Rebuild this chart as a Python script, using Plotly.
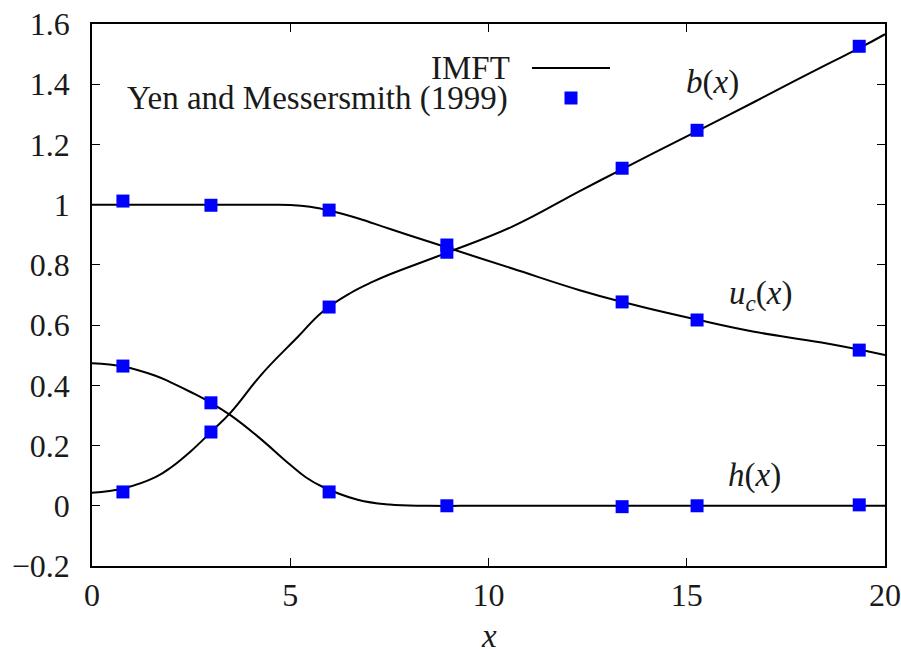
import plotly.graph_objects as go

# ---- data ----
x_b = [0, 0.8, 1.6, 2.0, 2.5, 3.0, 3.5, 4.3, 5.2, 5.8, 6.5, 7.1, 7.5, 8.9, 10.6, 12.3, 13.4, 15.3, 16.7, 18.4, 19.4, 20]
b_line = [0.043, 0.058, 0.095, 0.128, 0.182, 0.245, 0.31, 0.44, 0.562, 0.643, 0.705, 0.745, 0.768, 0.838, 0.927, 1.045, 1.12, 1.247, 1.341, 1.457, 1.523, 1.566]

x_u = [0, 2.5, 4.5, 5.0, 5.5, 6.0, 6.7, 7.5, 8.9, 10.6, 12.3, 13.4, 15.3, 16.7, 18.4, 20]
u_line = [1.0, 1.0, 1.0, 0.999, 0.993, 0.98, 0.955, 0.92, 0.86, 0.788, 0.716, 0.676, 0.617, 0.578, 0.542, 0.501]

x_h = [0, 0.8, 1.6, 2.0, 2.5, 3.0, 3.5, 4.2, 5.0, 5.4, 5.8, 6.7, 7.5, 8.5, 10, 15, 20]
h_line = [0.473, 0.462, 0.432, 0.409, 0.377, 0.342, 0.3, 0.228, 0.136, 0.094, 0.064, 0.02, 0.004, 0.0, 0.0, 0.0, 0.0]

x_exp = [0.78, 3.0, 5.98, 8.95, 13.37, 15.26, 19.35]
b_exp = [0.046, 0.245, 0.66, 0.842, 1.121, 1.247, 1.526]
u_exp = [1.012, 0.998, 0.982, 0.866, 0.677, 0.617, 0.517]
h_exp = [0.464, 0.342, 0.046, 0.0, -0.003, 0.0, 0.003]

x_ticks = [0, 5, 10, 15, 20]
x_ticktext = ["0", "5", "10", "15", "20"]
y_ticks = [-0.2, 0, 0.2, 0.4, 0.6, 0.8, 1.0, 1.2, 1.4, 1.6]
y_ticktext = ["\u22120.2", "0", "0.2", "0.4", "0.6", "0.8", "1", "1.2", "1.4", "1.6"]

FONT = "Liberation Serif, serif"
FS = 32
FS_TXT = 33
TXT = "#1a1a1a"
BLUE = "#0000ff"

W, H = 901, 649
ML, MR, MT, MB = 92, 16, 24, 83
PW = W - ML - MR          # plot width in px
PH = H - MT - MB          # plot height in px

fig = go.Figure()
line_style = dict(color="black", width=2, shape="spline", smoothing=1.2)
for xs, ys in [(x_b, b_line), (x_u, u_line), (x_h, h_line)]:
    fig.add_trace(go.Scatter(x=xs, y=ys, mode="lines", line=line_style,
                             showlegend=False, hoverinfo="skip"))
for ys in [b_exp, u_exp, h_exp]:
    fig.add_trace(go.Scatter(x=x_exp, y=ys, mode="markers",
                             marker=dict(symbol="square", size=13, color=BLUE, line=dict(width=0)),
                             showlegend=False))

axis_common = dict(showline=True, linecolor="black", linewidth=1.5, mirror="ticks",
                   ticks="inside", ticklen=8, tickwidth=1.2, tickcolor="black",
                   showgrid=False, zeroline=False, automargin=False,
                   ticklabeloverflow="allow",
                   tickfont=dict(family=FONT, size=FS, color=TXT))

fig.update_xaxes(range=[0, 20], tickvals=x_ticks, ticktext=x_ticktext,
                 ticklabelstandoff=0, **axis_common)
fig.update_yaxes(range=[-0.2, 1.6], tickvals=y_ticks, ticktext=y_ticktext,
                 ticklabelstandoff=14, **axis_common)

# curve labels
labels = [("<i>b</i>(<i>x</i>)", 15.66, 1.406),
          ("<i>u<sub>c</sub></i>(<i>x</i>)", 16.85, 0.70),
          ("<i>h</i>(<i>x</i>)", 16.72, 0.10)]
for txt, lx, ly in labels:
    fig.add_annotation(x=lx, y=ly, text=txt, showarrow=False,
                       font=dict(family=FONT, size=FS_TXT, color=TXT))

def px_x(p):
    return (p - ML) / PW

def px_y(p):
    return (MT + PH - p) / PH

# x-axis title
fig.add_annotation(xref="paper", yref="paper", x=0.5, y=px_y(636), text="<i>x</i>",
                   xanchor="center", yanchor="middle", showarrow=False,
                   font=dict(family=FONT, size=FS_TXT, color=TXT))

# legend (drawn manually: text on the left, sample on the right)
fig.add_annotation(xref="paper", yref="paper", x=px_x(512), y=px_y(68), text="IMFT",
                   xanchor="right", yanchor="middle", showarrow=False,
                   font=dict(family=FONT, size=FS_TXT, color=TXT))
fig.add_annotation(xref="paper", yref="paper", x=px_x(510), y=px_y(98), text="Yen and Messersmith (1999)",
                   xanchor="right", yanchor="middle", showarrow=False,
                   font=dict(family=FONT, size=FS_TXT, color=TXT))
fig.add_shape(type="line", xref="paper", yref="paper", x0=px_x(532), x1=px_x(610),
              y0=px_y(68), y1=px_y(68), line=dict(color="black", width=2))
fig.add_shape(type="rect", xref="paper", yref="paper",
              x0=px_x(564.5), x1=px_x(577.5), y0=px_y(104.5), y1=px_y(91.5),
              fillcolor=BLUE, line=dict(width=0))

fig.update_layout(width=W, height=H, plot_bgcolor="white", paper_bgcolor="white",
                  font=dict(family=FONT, size=FS, color=TXT),
                  margin=dict(l=ML, r=MR, t=MT, b=MB), showlegend=False)

fig.write_html("out.html", config={"displayModeBar": False},
               post_script="document.body.style.margin='0';document.body.style.overflow='hidden';")
